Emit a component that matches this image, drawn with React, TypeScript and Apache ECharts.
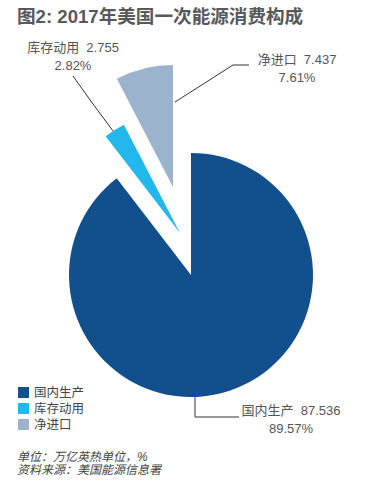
import React, { useEffect, useRef } from "react";
import * as echarts from "echarts";

const categories = ["国内生产", "库存动用", "净进口"];
const values = [87.536, 2.755, 7.437];
const colors = ["#124f8d", "#22b8ec", "#9bb3cc"];
const titleText = "图2: 2017年美国一次能源消费构成";
const noteLines = ["单位：万亿英热单位，%", "资料来源：美国能源信息署"];

// layout of each slice (center of its own pie, label placement, guide line)
const sliceCenters: [number, number][] = [
  [191, 275],
  [180, 233],
  [173, 187],
];
const labelPos: [number, number][] = [
  [291, 419],
  [73, 56],
  [297, 68],
];
const guidePoints: [number, number][][] = [
  [[195, 397], [195, 417], [239, 417]],
  [[113, 131], [93, 104], [73, 76]],
  [[175, 102], [233, 65], [249, 65]],
];

const FONT = "'Liberation Sans', 'Noto Sans CJK SC', sans-serif";

export default function App() {
  const ref = useRef<HTMLDivElement>(null);
  useEffect(() => {
    document.body.style.margin = "0";
    if (!ref.current) return;
    const chart = echarts.init(ref.current, undefined, { renderer: "svg" });
    const series = categories.map((_, i) => ({
      type: "pie",
      center: sliceCenters[i],
      radius: 122,
      startAngle: 90,
      clockwise: true,
      avoidLabelOverlap: false,
      silent: true,
      emphasis: { disabled: true },
      z: 2 + i,
      data: categories.map((name, j) => ({
        name,
        value: values[j],
        itemStyle: { color: j === i ? colors[j] : "rgba(0,0,0,0)" },
        label: { show: j === i },
        labelLine: { show: j === i },
      })),
      label: {
        formatter: "{b}  {c}\n{d}%",
        fontFamily: FONT,
        fontSize: 13,
        lineHeight: 18,
        color: "#555",
        align: "center",
      },
      labelLine: {
        lineStyle: { color: "#333", width: 1 },
        length: 10,
        length2: 10,
      },
      labelLayout: (params: any) => {
        if (params.dataIndex !== i) return {};
        return {
          x: labelPos[i][0],
          y: labelPos[i][1],
          align: "center",
          verticalAlign: "middle",
          labelLinePoints: guidePoints[i],
        };
      },
    }));
    chart.setOption({
      animation: false,
      title: {
        text: titleText,
        left: 17,
        top: 7,
        padding: 0,
        textStyle: {
          fontFamily: FONT,
          fontSize: 18.6,
          fontWeight: "bold",
          color: "#58595b",
        },
      },
      legend: {
        orient: "vertical",
        left: 18,
        top: 386,
        padding: 0,
        icon: "rect",
        itemWidth: 11,
        itemHeight: 11,
        itemGap: 3,
        selectedMode: false,
        textStyle: { fontFamily: FONT, fontSize: 12.5, lineHeight: 13, color: "#444" },
        data: categories.map((name, j) => ({
          name,
          itemStyle: { color: colors[j] },
        })),
      },
      graphic: noteLines.map((line, k) => ({
        type: "text",
        left: 17,
        top: 451 + k * 13,
        style: {
          text: line,
          fontFamily: FONT,
          fontSize: 12,
          fontStyle: "italic",
          fill: "#444",
        },
      })),
      series,
    });
    return () => chart.dispose();
  }, []);
  return <div ref={ref} style={{ width: 372, height: 481 }} />;
}
